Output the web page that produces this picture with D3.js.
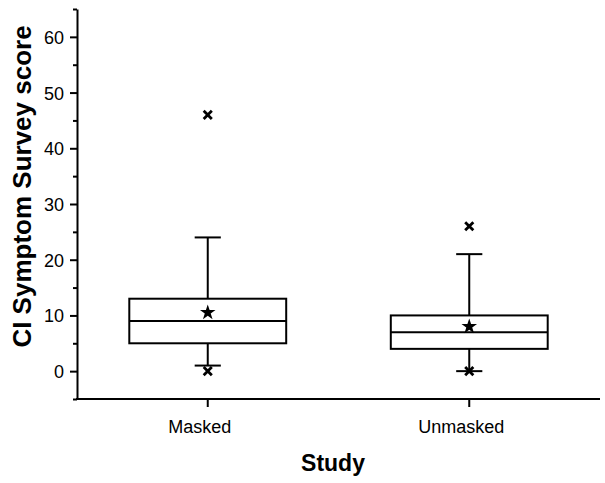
<!DOCTYPE html>
<html><head><meta charset="utf-8">
<script src="https://cdn.jsdelivr.net/npm/d3@7"></script>
<style>body{margin:0;background:#fff}svg{display:block}text{font-family:"Liberation Sans",Arial,sans-serif;fill:#000}</style>
</head><body><svg id="c" width="605" height="483"></svg>
<script>
const categories = ["Masked", "Unmasked"];
const q1 = [5, 4];
const median = [9, 7];
const q3 = [13, 10];
const whiskerLow = [1, 0];
const whiskerHigh = [24, 21];
const means = [10.5, 8];
const minVals = [0, 0];
const maxVals = [46, 26];
const majorTicks = [0, 10, 20, 30, 40, 50, 60];
const minorTicks = [-5, 5, 15, 25, 35, 45, 55, 65];

const svg = d3.select("#c");
const x = d3.scaleBand().domain(categories).range([77, 600]).padding(0);
const y = d3.scaleLinear().domain([-5, 65]).range([399, 9]);

const g = svg.append("g");
// y axis major
g.append("g").attr("transform","translate(77,0)")
  .call(d3.axisLeft(y).tickValues(majorTicks).tickSizeInner(7).tickSizeOuter(0).tickPadding(6))
  .call(a=>{a.select(".domain").attr("stroke-width",2);a.selectAll(".tick line").attr("stroke-width",2);
    a.selectAll("text").attr("font-size",18).attr("dy","0.36em");});
// y minor
g.append("g").attr("transform","translate(77,0)")
  .call(d3.axisLeft(y).tickValues(minorTicks).tickSize(4).tickFormat(""))
  .call(a=>{a.select(".domain").remove();a.selectAll(".tick line").attr("stroke-width",2);});
// x axis
g.append("g").attr("transform","translate(0,399)")
  .call(d3.axisBottom(x).tickSizeInner(8).tickSizeOuter(0).tickPadding(0).tickFormat(""))
  .call(a=>{a.select(".domain").attr("stroke-width",2).attr("d","M76,0H600");a.selectAll(".tick line").attr("stroke-width",2);});

// category labels
g.selectAll(".cat").data(categories).join("text")
  .attr("x", d=>x(d)+x.bandwidth()/2-8).attr("y",433)
  .attr("text-anchor","middle").attr("font-size",18).text(d=>d);

// titles
svg.append("text").attr("x",333).attr("y",471).attr("text-anchor","middle")
  .attr("font-size",23).attr("font-weight","bold").text("Study");
svg.append("text").attr("transform","translate(31,186.5) rotate(-90)").attr("text-anchor","middle")
  .attr("font-size",26).attr("font-weight","bold").text("CI Symptom Survey score");

const bw = x.bandwidth()*0.6, cap = x.bandwidth()*0.1;
const boxes = svg.append("g").attr("stroke","#000").attr("stroke-width",2).attr("fill","none");
categories.forEach((c,i)=>{
  const cx = x(c)+x.bandwidth()/2;
  boxes.append("line").attr("x1",cx).attr("x2",cx).attr("y1",y(q3[i])).attr("y2",y(whiskerHigh[i]));
  boxes.append("line").attr("x1",cx).attr("x2",cx).attr("y1",y(q1[i])).attr("y2",y(whiskerLow[i]));
  boxes.append("line").attr("x1",cx-cap/2).attr("x2",cx+cap/2).attr("y1",y(whiskerHigh[i])).attr("y2",y(whiskerHigh[i]));
  boxes.append("line").attr("x1",cx-cap/2).attr("x2",cx+cap/2).attr("y1",y(whiskerLow[i])).attr("y2",y(whiskerLow[i]));
  boxes.append("rect").attr("x",cx-bw/2).attr("width",bw).attr("y",y(q3[i])).attr("height",y(q1[i])-y(q3[i]));
  boxes.append("line").attr("x1",cx-bw/2).attr("x2",cx+bw/2).attr("y1",y(median[i])).attr("y2",y(median[i]));
  [minVals[i], maxVals[i]].forEach(v=>{
    svg.append("path").attr("d",d3.symbol(d3.symbolTimes,45)())
      .attr("transform",`translate(${cx},${y(v)})`).attr("stroke","#000").attr("stroke-width",2.8).attr("fill","none");
  });
  svg.append("path").attr("d",d3.symbol(d3.symbolStar,75)())
    .attr("transform",`translate(${cx},${y(means[i])})`).attr("fill","#000");
});
</script></body></html>
